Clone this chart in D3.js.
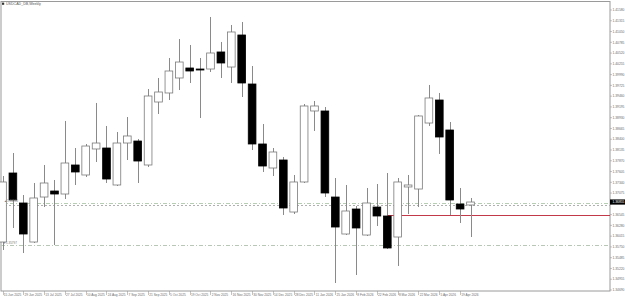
<!DOCTYPE html>
<html>
<head>
<meta charset="utf-8">
<script src="https://cdn.jsdelivr.net/npm/d3@7"></script>
<style>
  html, body { margin: 0; padding: 0; background: #fff; }
  svg { display: block; font-family: "Liberation Sans", Arial, sans-serif; }
</style>
</head>
<body>
<div id="chart"></div>
<script>
// USDCAD weekly, one candle per week starting 15 Jun 2025
const opens  = [1.35871,1.37569,1.36831,1.35871,1.36978,1.37126,1.37052,1.37766,1.37520,1.38160,
                1.38184,1.37274,1.38307,1.38356,1.37766,1.39316,1.39538,1.39907,1.40153,1.40128,
                1.40128,1.40547,1.40177,1.40965,1.39759,1.38283,1.37692,1.37889,1.36609,1.37348,
                1.39095,1.39095,1.36978,1.36068,1.36683,1.36043,1.36732,1.36511,1.35994,1.37225,
                1.37175,1.38799,1.39365,1.38627,1.36806,1.36782];
const highs  = [1.37495,1.38061,1.37028,1.37323,1.37766,1.37397,1.38849,1.38184,1.38283,1.39292,
                1.38726,1.38578,1.38947,1.38406,1.39636,1.39907,1.40399,1.40866,1.40719,1.40399,
                1.41408,1.40793,1.41211,1.41285,1.40202,1.38775,1.38184,1.37963,1.37520,1.39267,
                1.39341,1.39193,1.37446,1.37274,1.36757,1.37200,1.37298,1.37569,1.37446,1.37520,
                1.38996,1.39735,1.39538,1.38824,1.37200,1.36954];
const lows   = [1.35674,1.36216,1.35600,1.35847,1.36732,1.35797,1.36929,1.37274,1.37471,1.37840,
                1.37323,1.37249,1.37889,1.37323,1.37717,1.39021,1.39365,1.39611,1.39784,1.38922,
                1.40054,1.39907,1.39784,1.39439,1.38135,1.37594,1.37495,1.36536,1.36560,1.37323,
                1.38603,1.36978,1.34862,1.36043,1.35059,1.36019,1.36265,1.35699,1.35281,1.36560,
                1.36732,1.38726,1.38037,1.36536,1.36339,1.35994];
const closes = [1.37348,1.36905,1.36068,1.36954,1.37323,1.37052,1.37815,1.37594,1.38233,1.38307,
                1.37421,1.38307,1.38480,1.37864,1.39464,1.39562,1.40079,1.40300,1.40079,1.40115,
                1.40522,1.40276,1.41039,1.39784,1.38283,1.37741,1.38086,1.36708,1.37348,1.39218,
                1.39218,1.37077,1.36240,1.36634,1.36216,1.36831,1.36511,1.35724,1.37348,1.37274,
                1.38972,1.39415,1.38455,1.36905,1.36683,1.36855];

// one date label every second candle
const dateLabels = ['15 Jun 2025','29 Jun 2025','13 Jul 2025','27 Jul 2025','10 Aug 2025','24 Aug 2025',
  '7 Sep 2025','21 Sep 2025','5 Oct 2025','19 Oct 2025','2 Nov 2025','16 Nov 2025','30 Nov 2025',
  '14 Dec 2025','28 Dec 2025','11 Jan 2026','25 Jan 2026','8 Feb 2026','22 Feb 2026','8 Mar 2026',
  '22 Mar 2026','5 Apr 2026','19 Apr 2026'];

const priceTicks = [1.34690,1.34955,1.35220,1.35485,1.35750,1.36015,1.36280,1.36545,1.36810,
  1.37075,1.37340,1.37605,1.37870,1.38135,1.38400,1.38665,1.38930,1.39195,1.39460,1.39725,
  1.39990,1.40255,1.40520,1.40785,1.41050,1.41315,1.41580];

// horizontal levels
const bidPrice   = 1.36855;
const upperLevel = 1.36830;
const askLevel   = 1.36782;
const lowerLevel = 1.35797;
const redLevel   = 1.36536;
const redFrom    = 37;   // candle index where the red line starts

const W = 625, H = 298;
const plotR = 610, plotB = 291;

const svg = d3.select('#chart').append('svg').attr('width', W).attr('height', H);

const x = d3.scaleLinear().domain([0, 45]).range([2.5, 470.5]);
const y = d3.scaleLinear().domain([1.34690, 1.41580]).range([290, 10]);
const bw = (x(1) - x(0)) * 0.74;

// frame
svg.append('rect').attr('x', 1).attr('y', 1.5).attr('width', plotR - 1).attr('height', plotB - 1.5)
  .attr('fill', 'none').attr('stroke', '#9a9a9a').attr('stroke-width', 1);

// level lines
const hline = (p, x0, col, dash) => svg.append('line')
  .attr('x1', x0).attr('x2', plotR).attr('y1', Math.round(y(p)) + 0.5).attr('y2', Math.round(y(p)) + 0.5)
  .attr('stroke', col).attr('stroke-width', 1).attr('stroke-dasharray', dash);
hline(upperLevel, 1, '#b7cdb4', '4,2,1,2');
hline(askLevel, 1, '#b0b0b0', '2,2');
hline(lowerLevel, 1, '#b9c7b6', '4,2,1,2');
hline(redLevel, x(redFrom), '#c23a4a', null);

// candles
const data = opens.map((o, i) => ({ i, o, h: highs[i], l: lows[i], c: closes[i] }));
const g = svg.append('g');
g.selectAll('line.wick').data(data).join('line').attr('class', 'wick')
  .attr('x1', d => Math.round(x(d.i)) + 0.5).attr('x2', d => Math.round(x(d.i)) + 0.5)
  .attr('y1', d => y(d.h)).attr('y2', d => y(d.l))
  .attr('stroke', '#8a8a8a').attr('stroke-width', 1);
g.selectAll('rect.body').data(data).join('rect').attr('class', 'body')
  .attr('x', d => x(d.i) - bw / 2).attr('width', bw)
  .attr('y', d => y(Math.max(d.o, d.c)))
  .attr('height', d => Math.max(1, Math.abs(y(d.o) - y(d.c))))
  .attr('fill', d => d.c >= d.o ? '#fff' : '#000')
  .attr('stroke', d => d.c >= d.o ? '#7a7a7a' : '#000')
  .attr('stroke-width', 0.8);

// price axis (the tick label under the bid box is hidden, as in the terminal)
const ax = svg.append('g').attr('font-size', 3.3).attr('fill', '#6a6a6a');
ax.selectAll('line').data(priceTicks).join('line')
  .attr('x1', plotR).attr('x2', plotR + 2).attr('y1', d => y(d)).attr('y2', d => y(d))
  .attr('stroke', '#9a9a9a').attr('stroke-width', 0.6);
ax.selectAll('text').data(priceTicks.filter(t => Math.abs(y(t) - y(bidPrice)) > 5)).join('text')
  .attr('x', plotR + 2.5).attr('y', d => y(d) + 1.2).text(d => d.toFixed(5));

// bid label
svg.append('rect').attr('x', plotR).attr('y', y(bidPrice) - 2.6).attr('width', W - plotR).attr('height', 5.2)
  .attr('fill', '#000');
svg.append('text').attr('x', plotR + 2.5).attr('y', y(bidPrice) + 1.2).attr('font-size', 3.3)
  .attr('fill', '#fff').text(bidPrice.toFixed(5));

// left level labels
svg.append('text').attr('x', 4).attr('y', y(upperLevel) - 0.6).attr('font-size', 3)
  .attr('fill', '#777').text('\u25B2' + upperLevel.toFixed(5));
svg.append('text').attr('x', 3).attr('y', y(lowerLevel) - 0.6).attr('font-size', 3)
  .attr('fill', '#777').text('\u25BC' + lowerLevel.toFixed(5));

// date axis
const dx = svg.append('g').attr('font-size', 3.2).attr('fill', '#6a6a6a');
dx.selectAll('line').data(dateLabels).join('line')
  .attr('x1', (d, k) => Math.round(x(2 * k)) + 0.5).attr('x2', (d, k) => Math.round(x(2 * k)) + 0.5)
  .attr('y1', plotB).attr('y2', plotB + 4)
  .attr('stroke', '#9a9a9a').attr('stroke-width', 0.6);
dx.selectAll('text').data(dateLabels).join('text')
  .attr('x', (d, k) => x(2 * k) + 1.2).attr('y', 296.2).text(d => d);

// title
svg.append('rect').attr('x', 2).attr('y', 2.6).attr('width', 2.2).attr('height', 2.2).attr('fill', '#333');
svg.append('text').attr('x', 6).attr('y', 5).attr('font-size', 3.6).attr('fill', '#555')
  .text('USDCAD_DB,Weekly');
</script>
</body>
</html>
